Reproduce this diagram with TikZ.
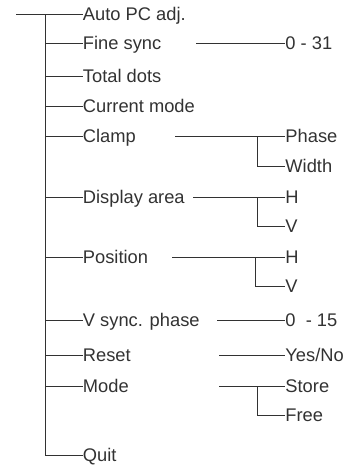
\documentclass[tikz,border=0pt]{standalone}
\usepackage{fontspec}
\setmainfont{Liberation Sans}
\usetikzlibrary{positioning}
\definecolor{menugray}{RGB}{50,50,50}

\begin{document}
\begin{tikzpicture}[x=1pt, y=-1pt, line width=0.9pt, draw=menugray,
  item/.style={anchor=west, inner sep=0pt, text height=12.8pt, text depth=0pt,
               font=\fontsize{18.3}{21}\selectfont, text=menugray}]
  \useasboundingbox (0,0) rectangle (359,466);
  \coordinate (root) at (16,14);
  \coordinate (trunk) at (45,14);
  % main menu
  \foreach \n/\txt/\y in {auto/Auto PC adj./14, fine/Fine sync/43, total/Total dots/76,
      current/Current mode/106, clamp/Clamp/136, disp/Display area/197, pos/Position/257,
      vphase/V sync. phase/320, reset/Reset/355, mode/Mode/386, quit/Quit/455}{
    \node[item] (\n) at (82.5,\y) {\txt};
    \draw (\n.west -| trunk) -- (\n.west);
  }
  \draw (root) -- (trunk) -- (quit.west -| trunk);
  % sub items
  \foreach \n/\txt/\y in {finev/0 - 31/43, phase/Phase/136, width/Width/166,
      disph/H/197, dispv/V/226, posh/H/257, posv/V/286, vphasev/{0\ \ - 15}/320,
      yesno/{Yes/No}/355, store/Store/386, free/Free/415}{
    \node[item] (\n) at (285,\y) {\txt};
  }
  \foreach \to/\x in {finev/196, phase/175, disph/193, posh/172, vphasev/217,
      yesno/219, store/219}{
    \draw (\to.west) ++(\x-285,0) coordinate (\to start) -- (\to.west);
  }
  \foreach \from/\to/\x in {phase/width/257, disph/dispv/257, posh/posv/255, store/free/257}{
    \draw (\from.west) ++(\x-285,0) coordinate (\from fork) |- (\to.west);
  }
\end{tikzpicture}
\end{document}
